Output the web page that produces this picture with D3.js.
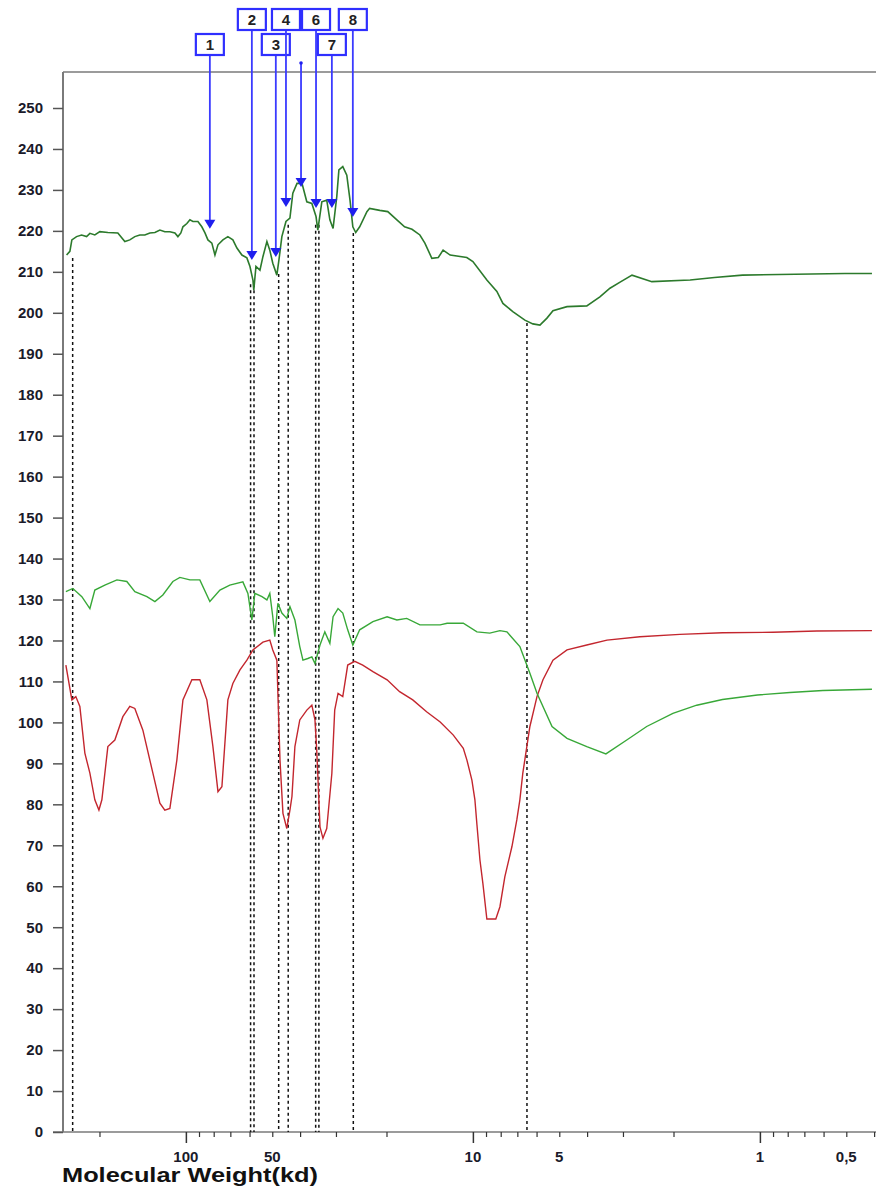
<!DOCTYPE html>
<html>
<head>
<meta charset="utf-8">
<script src="https://cdn.jsdelivr.net/npm/d3@7"></script>
<style>
body { margin: 0; background: #fff; }
svg { display: block; }
</style>
</head>
<body>
<svg id="chart" width="881" height="1189"></svg>
<script>
// top trace (dark green)
const topMW = [260.4,253.6,249.6,240.4,230.9,221.8,216.0,207.6,199.4,187.0,
  172.6,163.2,156.8,150.6,144.7,139.0,133.5,128.2,123.2,118.4,
  113.7,109.2,106.6,104.1,102.4,99.2,96.8,94.5,90.8,88.0,
  85.8,83.8,81.2,79.2,77.3,74.3,71.4,68.6,66.4,63.8,
  61.3,59.8,58.4,58.0,57.0,55.2,53.9,52.2,51.0,49.8,
  48.2,47.4,46.3,44.8,43.4,42.4,41.0,39.4,37.9,36.4,
  35.2,34.7,33.6,32.3,31.5,30.7,29.8,29.3,28.4,27.5,
  26.8,26.2,25.6,24.8,23.4,22.9,21.1,19.8,18.4,17.3,
  16.3,15.3,14.7,13.9,13.2,12.7,12.0,10.5,10.0,8.94,
  8.25,7.86,7.26,6.59,6.18,5.84,5.52,5.26,4.70,4.01,
  3.61,3.33,3.07,2.79,2.38,1.75,1.44,1.15,0.506,0.407];
const topVal = [214.1,215.0,217.8,218.6,219.0,218.6,219.4,219.0,219.8,219.6,
  219.5,217.4,217.8,218.6,219.0,219.0,219.5,219.6,220.2,219.8,
  219.8,219.5,218.6,219.5,221.0,221.8,222.7,222.3,222.3,221.0,
  219.5,217.8,217.0,214.1,216.6,217.8,218.6,217.8,215.8,214.1,
  213.4,211.3,208.0,205.5,211.3,210.4,213.7,217.4,215.3,212.1,
  209.2,212.9,218.6,222.3,223.1,229.2,231.6,231.6,227.1,226.7,
  223.5,220.2,227.1,227.5,222.7,220.6,228.4,234.9,235.7,233.6,
  227.5,221.0,219.6,221.0,224.7,225.5,225.0,224.7,222.7,221.0,
  220.4,219.0,217.0,213.3,213.5,215.3,214.1,213.5,212.5,208.0,
  205.2,202.3,200.3,198.2,197.3,197.0,198.7,200.5,201.5,201.7,
  203.9,206.0,207.5,209.2,207.6,208.0,208.6,209.2,209.6,209.6];

// middle trace (light green)
const midMW = [261.9,247.6,230.4,216.0,207.6,191.6,173.9,160.6,150.6,136.7,
  128.2,120.3,111.0,104.9,96.8,89.4,82.5,76.1,70.3,63.3,
  60.8,58.9,57.5,54.3,52.2,51.0,49.8,49.0,47.8,46.3,
  44.5,43.4,41.7,40.1,39.1,37.6,36.4,35.5,34.1,32.8,
  31.5,30.7,29.5,28.4,27.3,26.2,24.8,22.3,19.9,18.4,
  17.0,15.3,13.0,12.3,10.8,9.68,8.73,8.05,7.61,6.86,
  6.33,5.98,5.30,4.70,4.01,3.44,2.91,2.48,2.01,1.66,
  1.35,1.02,0.786,0.603,0.407];
const midVal = [131.9,132.7,130.7,127.8,132.3,133.5,134.8,134.4,131.9,130.7,
  129.5,131.1,134.4,135.4,134.8,134.8,129.5,132.3,133.5,134.3,
  131.5,125.0,131.5,130.7,129.9,131.5,125.8,120.9,129.1,126.7,
  125.4,128.3,125.0,118.5,115.2,115.6,116.0,114.4,118.9,122.1,
  119.3,125.8,127.8,126.7,122.6,118.9,122.6,124.6,125.8,125.0,
  125.4,123.8,123.8,124.2,124.2,122.1,121.8,122.4,122.1,118.5,
  112.0,107.1,99.0,96.1,94.1,92.3,95.7,99.0,102.2,104.2,
  105.6,106.7,107.3,107.8,108.1];

// lower trace (red)
const redMW = [261.9,249.6,241.8,234.1,224.9,216.0,207.6,200.9,196.2,187.0,
  176.8,165.8,156.8,150.6,141.2,130.3,123.2,118.4,113.7,107.5,
  102.4,95.3,89.4,84.5,80.5,77.3,74.9,71.4,68.6,64.8,
  61.3,58.4,53.9,51.0,49.8,48.2,47.8,47.0,45.9,44.5,
  43.4,42.7,41.7,40.1,37.9,36.4,35.5,35.0,34.1,33.3,
  32.3,31.0,30.3,29.5,28.4,27.3,25.8,24.2,22.3,19.9,
  18.0,16.2,14.5,13.0,11.7,10.8,10.49,10.08,9.84,9.68,
  9.45,9.23,8.94,8.32,8.05,7.74,7.31,7.03,6.86,6.70,
  6.33,5.98,5.70,5.26,4.70,4.01,3.41,2.62,1.90,1.35,
  0.901,0.633,0.407];
const redVal = [114.0,105.5,106.3,103.9,92.5,87.6,81.1,78.6,81.1,94.1,
  95.7,101.4,103.9,103.4,98.1,87.6,80.3,78.6,79.0,90.8,
  105.5,110.4,110.4,105.5,94.1,83.1,84.3,105.5,109.5,112.8,
  115.2,117.7,119.6,120.1,117.7,115.2,107.1,90.8,77.8,74.1,
  78.6,81.9,94.1,100.6,103.0,104.2,100.6,93.3,74.5,71.7,
  74.1,87.6,103.0,107.1,106.3,114.0,114.9,114.0,112.4,110.4,
  107.5,105.5,102.6,100.1,96.9,93.7,90.8,85.9,81.1,75.0,
  66.4,60.7,52.0,52.0,55.0,62.3,69.7,76.2,81.1,87.6,
  99.0,106.3,110.4,115.2,117.7,118.9,120.1,120.9,121.5,121.9,
  122.0,122.3,122.4];

// peak markers
const markerLabels = ["1","2","3","4","","6","7","8"];
const markerMW = [82.5,58.9,48.6,44.8,39.7,35.2,31.0,26.2];
const markerVal = [220.5,212.9,213.6,225.8,230.7,225.6,225.6,223.4];

// dotted cut lines
const cutMW = [248,59.5,57.9,47.5,44.0,35.3,34.4,26.1,6.48];
const cutTop = [213.4,207.0,207.0,209.5,221.5,221.5,221.5,219.5,197.5];

// axes
const yTicks = d3.range(0, 251, 10);
const xMajor = [100, 10, 1];
const xMinor = [200,90,80,70,60,50,40,30,20,9,8,7,6,5,4,3,2,0.9,0.8,0.7,0.6,0.5,0.4];
const xLabels = [100, 50, 10, 5, 1, 0.5];

const svg = d3.select("#chart");
const font = "'Liberation Sans', Arial, sans-serif";
const x = d3.scaleLog().domain([268, 0.394]).range([63, 876]);
const y = d3.scaleLinear().domain([0, 250]).range([1132, 108]);

function zip(a, b) { return a.map((d, i) => [d, b[i]]); }

// frame
svg.append("line").attr("x1", 63).attr("x2", 876).attr("y1", 72).attr("y2", 72)
  .attr("stroke", "#7a7a7a").attr("stroke-width", 1.5);
svg.append("line").attr("x1", 63).attr("x2", 63).attr("y1", 72).attr("y2", 1132)
  .attr("stroke", "#7a7a7a").attr("stroke-width", 2);
svg.append("line").attr("x1", 53).attr("x2", 876).attr("y1", 1132).attr("y2", 1132)
  .attr("stroke", "#7a7a7a").attr("stroke-width", 1.5);

// y axis
let ya = svg.append("g").attr("transform", "translate(63,0)")
  .call(d3.axisLeft(y).tickValues(yTicks).tickSize(10).tickPadding(10));
ya.select(".domain").remove();
ya.selectAll(".tick line").attr("stroke", "#555").attr("stroke-width", 1.5);
ya.selectAll(".tick text").attr("fill", "#1a1a2a")
  .style("font-family", font).style("font-size", "15px").style("font-weight", "bold");

// x axis
let xa = svg.append("g").attr("transform", "translate(0,1132)")
  .call(d3.axisBottom(x).tickValues(xMinor.concat(xMajor)).tickFormat("").tickSize(5));
xa.select(".domain").remove();
xa.selectAll(".tick line")
  .attr("y2", d => xMajor.includes(d) ? 11 : 5)
  .attr("stroke", "#333").attr("stroke-width", d => xMajor.includes(d) ? 1.5 : 1.2);

svg.append("g").selectAll("text").data(xLabels).enter().append("text")
  .attr("x", d => x(d)).attr("y", 1162)
  .attr("text-anchor", "middle")
  .attr("fill", "#1a1a2a")
  .style("font-family", font).style("font-size", "15px").style("font-weight", "bold")
  .text(d => String(d).replace(".", ","));

svg.append("text").attr("x", 62).attr("y", 1182)
  .attr("textLength", 256).attr("lengthAdjust", "spacingAndGlyphs")
  .attr("fill", "#111")
  .style("font-family", font).style("font-size", "21px").style("font-weight", "bold")
  .text("Molecular Weight(kd)");

// dotted cut lines
svg.append("g").selectAll("line").data(cutMW).enter().append("line")
  .attr("x1", d => x(d)).attr("x2", d => x(d))
  .attr("y1", (d, i) => y(cutTop[i])).attr("y2", y(0))
  .attr("stroke", "#111").attr("stroke-width", 1.5)
  .attr("stroke-dasharray", "3,3");

// traces
const line = d3.line().x(d => x(d[0])).y(d => y(d[1]));
svg.append("path").datum(zip(redMW, redVal)).attr("d", line)
  .attr("fill", "none").attr("stroke", "#c3262e").attr("stroke-width", 1.4);
svg.append("path").datum(zip(midMW, midVal)).attr("d", line)
  .attr("fill", "none").attr("stroke", "#38a838").attr("stroke-width", 1.4);
svg.append("path").datum(zip(topMW, topVal)).attr("d", line)
  .attr("fill", "none").attr("stroke", "#2c7a2c").attr("stroke-width", 1.6);

// markers
const mk = svg.append("g").selectAll("g")
  .data(markerLabels.map((l, i) => ({ label: l, mw: markerMW[i], v: markerVal[i], n: i + 1 })))
  .enter().append("g");

const boxTop = d => (d.n % 2 === 1) ? 34 : 9;

mk.append("line")
  .attr("x1", d => x(d.mw)).attr("x2", d => x(d.mw))
  .attr("y1", d => d.label ? boxTop(d) + 21 : 63)
  .attr("y2", d => y(d.v) - 8)
  .attr("stroke", "#3b3bff").attr("stroke-width", 1.8);

mk.append("path")
  .attr("d", d => {
    let cx = x(d.mw), ty = y(d.v);
    return "M" + (cx - 5.5) + "," + (ty - 9) + "L" + (cx + 5.5) + "," + (ty - 9) + "L" + cx + "," + ty + "Z";
  })
  .attr("fill", "#1f1fee");

mk.filter(d => !d.label).append("circle")
  .attr("cx", d => x(d.mw)).attr("cy", 63).attr("r", 1.8).attr("fill", "#1f1fee");

const boxed = mk.filter(d => d.label);
boxed.append("rect")
  .attr("x", d => x(d.mw) - 14).attr("y", boxTop)
  .attr("width", 28).attr("height", 21)
  .attr("fill", "#fff").attr("stroke", "#2f2fff").attr("stroke-width", 2.2);
boxed.append("text")
  .attr("x", d => x(d.mw)).attr("y", d => boxTop(d) + 16)
  .attr("text-anchor", "middle").attr("fill", "#222")
  .style("font-family", font).style("font-size", "15px").style("font-weight", "bold")
  .text(d => d.label);
</script>
</body>
</html>
